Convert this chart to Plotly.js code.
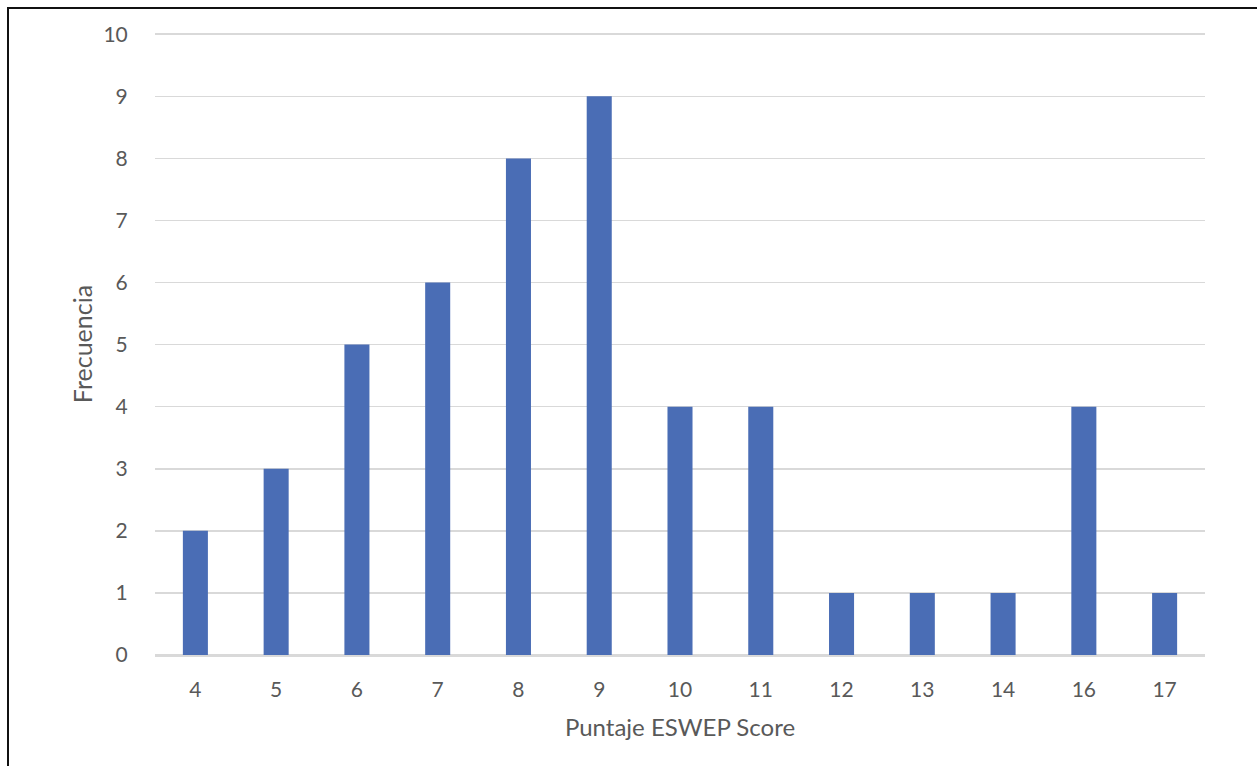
<!DOCTYPE html>
<html>
<head>
<meta charset="utf-8">
<script src="https://cdn.plot.ly/plotly-3.0.1.min.js"></script>
<style>
  html, body { margin: 0; padding: 0; background: #fff; }
  #frame { position: absolute; left: 7px; top: 7px; width: 1260px; height: 770px;
           border-left: 2px solid #111; border-top: 2px solid #111; box-sizing: border-box; pointer-events: none; z-index: 5; }
  #chart { position: absolute; left: 0; top: 0; width: 1257px; height: 766px; }
</style>
</head>
<body>
<div id="chart"></div>
<div id="frame"></div>
<script>
const categories = ["4", "5", "6", "7", "8", "9", "10", "11", "12", "13", "14", "16", "17"];
const frequencies = [2, 3, 5, 6, 8, 9, 4, 4, 1, 1, 1, 4, 1];
const yTicks = [0, 1, 2, 3, 4, 5, 6, 7, 8, 9, 10];

const font = "Lato, Open Sans, Liberation Sans, sans-serif";

Plotly.newPlot("chart", [{
  type: "bar",
  x: categories,
  y: frequencies,
  marker: { color: "#4A6DB5" },
  hoverinfo: "x+y"
}], {
  width: 1257,
  height: 766,
  paper_bgcolor: "#ffffff",
  plot_bgcolor: "#ffffff",
  margin: { l: 155, r: 52, t: 33, b: 111 },
  bargap: 0.69,
  showlegend: false,
  font: { family: font, color: "#595959", size: 21 },
  xaxis: {
    type: "category",
    tickfont: { size: 21, color: "#595959" },
    ticks: "outside", ticklen: 15, tickcolor: "rgba(0,0,0,0)",
    showline: true, linecolor: "#D9D9D9", linewidth: 1.5,
    showgrid: false,
    title: { text: "Puntaje ESWEP Score", font: { size: 24, color: "#595959" }, standoff: 19 }
  },
  yaxis: {
    range: [0, 10.02],
    tickvals: yTicks,
    tickfont: { size: 21, color: "#595959" },
    ticks: "outside", ticklen: 22, tickcolor: "rgba(0,0,0,0)",
    showgrid: true, gridcolor: "#D9D9D9", gridwidth: 1.5,
    zeroline: true, zerolinecolor: "#D9D9D9", zerolinewidth: 1.5,
    showline: false,
    title: { text: "Frecuencia", font: { size: 25, color: "#595959" }, standoff: 3 }
  }
}, { displayModeBar: false, staticPlot: true });
</script>
</body>
</html>
